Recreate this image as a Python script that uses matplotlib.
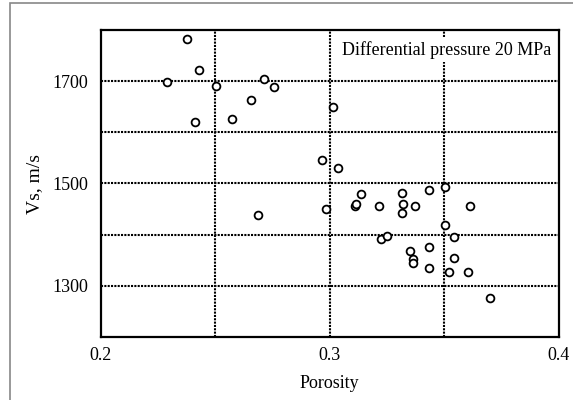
import matplotlib
matplotlib.use('Agg')
import matplotlib.pyplot as plt
from matplotlib.patches import Rectangle

plt.rcParams['font.family'] = ['Liberation Serif', 'DejaVu Serif']

# Porosity (fraction) and shear velocity (m/s) of the samples
porosity = [0.2374, 0.2427, 0.2290, 0.2504, 0.2711, 0.2755, 0.2656, 0.3015,
            0.2412, 0.2571, 0.2968, 0.3038, 0.2687, 0.2985, 0.3109, 0.3116,
            0.3138, 0.3214, 0.3314, 0.3321, 0.3314, 0.3373, 0.3436, 0.3506,
            0.3611, 0.3506, 0.3542, 0.3222, 0.3250, 0.3351, 0.3366, 0.3366,
            0.3436, 0.3542, 0.3436, 0.3521, 0.3605, 0.3702]
vs = [1783, 1722, 1698, 1691, 1705, 1688, 1664, 1650,
      1620, 1627, 1545, 1531, 1439, 1450, 1457, 1460,
      1480, 1457, 1481, 1460, 1443, 1457, 1487, 1494,
      1457, 1419, 1395, 1392, 1398, 1369, 1352, 1344,
      1375, 1355, 1335, 1328, 1328, 1277]

xticks = [0.2, 0.3, 0.4]
yticks = [1300, 1500, 1700]
xgrid = [0.25, 0.3, 0.35]
ygrid = [1300, 1400, 1500, 1600, 1700]

fig = plt.figure(figsize=(5.73, 4.0), dpi=100)

# grey frame around the figure
fig.patches.append(Rectangle((10 / 573, -0.1), 1.2, (400 - 3) / 400 + 0.1,
                             transform=fig.transFigure, fill=False,
                             edgecolor='#888888', linewidth=1.2))

ax = fig.add_axes([101 / 573, 63 / 400, 457.5 / 573, 307 / 400])
ax.set_xlim(0.2, 0.4)
ax.set_ylim(1200, 1800)

dots = (0, (1.0, 0.6))
for g in xgrid:
    ax.axvline(g, color='black', linestyle=dots, linewidth=1.5, zorder=1)
for g in ygrid:
    ax.axhline(g, color='black', linestyle=dots, linewidth=1.5, zorder=1)

ax.plot(porosity, vs, linestyle='none', marker='o', markersize=5.6,
        markerfacecolor='white', markeredgecolor='black',
        markeredgewidth=1.3, zorder=3)

ax.text(0.984, 0.935, 'Differential pressure 20 MPa', transform=ax.transAxes,
        ha='right', va='center', fontsize=13, zorder=4,
        bbox=dict(facecolor='white', edgecolor='none', pad=2.5))

ax.set_xticks(xticks)
ax.set_xticklabels(['0.2', '0.3', '0.4'])
ax.set_yticks(yticks)
ax.set_yticklabels(['1300', '1500', '1700'])
ax.tick_params(length=0, labelsize=13, pad=7)
ax.tick_params(axis='y', pad=9)

for s in ax.spines.values():
    s.set_linewidth(1.6)

ax.set_xlabel('Porosity', fontsize=13, labelpad=8)
ax.set_ylabel('Vs, m/s', fontsize=14, labelpad=7)

plt.savefig('out.png', dpi=100)
